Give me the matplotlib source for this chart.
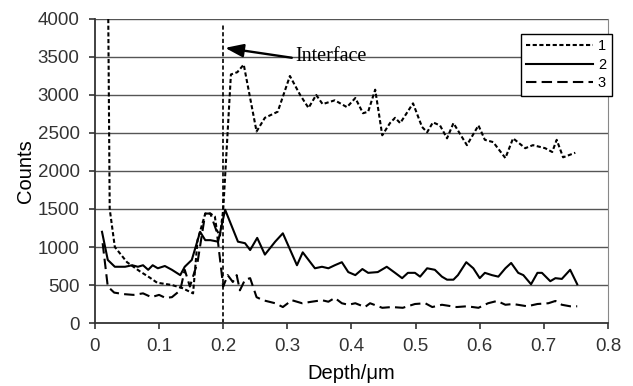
"""Depth profile of counts for three samples, with the interface marked."""

import matplotlib
matplotlib.use("Agg")
import matplotlib.pyplot as plt

# series 1 (short dash)
depth_1 = [0.019, 0.023, 0.031, 0.05, 0.07, 0.085, 0.097, 0.12, 0.136, 0.153, 0.16,
           0.172, 0.18, 0.187, 0.19, 0.195, 0.2, 0.212, 0.222, 0.232, 0.252, 0.265,
           0.285, 0.304, 0.32, 0.333, 0.345, 0.355, 0.374, 0.393, 0.406, 0.418, 0.426,
           0.437, 0.448, 0.46, 0.468, 0.476, 0.496, 0.51, 0.518, 0.527, 0.538, 0.549,
           0.559, 0.58, 0.598, 0.608, 0.621, 0.64, 0.652, 0.671, 0.683, 0.702, 0.713,
           0.72, 0.73, 0.749]
counts_1 = [6000, 1500, 1000, 800, 680, 600, 530, 500, 460, 390, 1090,
            1440, 1440, 1400, 1220, 1150, 1490, 3270, 3300, 3400, 2520, 2700,
            2780, 3250, 3000, 2830, 3000, 2880, 2930, 2840, 2960, 2760, 2780,
            3070, 2470, 2630, 2700, 2630, 2890, 2580, 2510, 2640, 2600, 2430,
            2630, 2340, 2600, 2410, 2380, 2170, 2430, 2300, 2340, 2300, 2250,
            2410, 2180, 2240]

# series 2 (solid)
depth_2 = [0.011, 0.02, 0.031, 0.047, 0.058, 0.067, 0.075, 0.083, 0.09, 0.098, 0.109,
           0.12, 0.133, 0.14, 0.151, 0.164, 0.172, 0.18, 0.192, 0.203, 0.223, 0.234,
           0.242, 0.253, 0.265, 0.281, 0.293, 0.315, 0.324, 0.343, 0.354, 0.364, 0.374,
           0.385, 0.395, 0.406, 0.417, 0.426, 0.441, 0.455, 0.468, 0.479, 0.488, 0.499,
           0.507, 0.518, 0.53, 0.541, 0.549, 0.559, 0.566, 0.579, 0.59, 0.6, 0.608,
           0.619, 0.629, 0.64, 0.649, 0.66, 0.668, 0.68, 0.69, 0.697, 0.71, 0.718,
           0.728, 0.741, 0.752]
counts_2 = [1200, 830, 740, 740, 760, 740, 760, 700, 760, 720, 750,
            700, 630, 740, 830, 1200, 1090, 1090, 1070, 1490, 1070, 1050,
            960, 1120, 900, 1070, 1180, 760, 930, 720, 740, 720, 760,
            800, 670, 630, 710, 660, 670, 740, 660, 590, 660, 660,
            610, 720, 700, 610, 570, 570, 630, 800, 720, 590, 660,
            630, 610, 720, 790, 660, 630, 510, 660, 660, 550, 590,
            580, 700, 510]

# series 3 (long dash)
depth_3 = [0.012, 0.02, 0.03, 0.045, 0.06, 0.075, 0.088, 0.1, 0.11, 0.12, 0.133,
           0.14, 0.148, 0.16, 0.172, 0.18, 0.19, 0.2, 0.207, 0.215, 0.221, 0.226,
           0.234, 0.242, 0.252, 0.262, 0.281, 0.293, 0.307, 0.323, 0.338, 0.354, 0.364,
           0.374, 0.385, 0.395, 0.406, 0.421, 0.429, 0.448, 0.463, 0.48, 0.499, 0.515,
           0.526, 0.541, 0.564, 0.58, 0.598, 0.613, 0.627, 0.64, 0.652, 0.674, 0.69,
           0.707, 0.718, 0.728, 0.741, 0.752]
counts_3 = [1050, 480, 400, 380, 370, 390, 340, 370, 330, 340, 430,
            700, 480, 800, 1440, 1440, 1200, 480, 630, 540, 630, 430,
            570, 590, 340, 300, 260, 210, 300, 260, 280, 300, 280,
            330, 260, 240, 260, 210, 260, 200, 210, 200, 250, 260,
            210, 240, 210, 220, 200, 260, 290, 240, 250, 220, 250,
            260, 290, 240, 220, 220]

series_labels = ["1", "2", "3"]
interface_depth = 0.2
arrow_tip = (0.203, 3620)
arrow_tail = (0.307, 3490)
x_ticks = [0, 0.1, 0.2, 0.3, 0.4, 0.5, 0.6, 0.7, 0.8]
y_ticks = [0, 500, 1000, 1500, 2000, 2500, 3000, 3500, 4000]

plt.rcParams["font.family"] = ["Liberation Sans", "DejaVu Sans"]

fig = plt.figure(figsize=(6.33, 3.86), dpi=100)
ax = fig.add_axes([0.150, 0.1632, 0.8105, 0.7876])

for y in y_ticks[1:]:
    ax.axhline(y, color="#555555", lw=1.0, zorder=1)

lw = 1.5
ax.plot(depth_1, counts_1, color="black", lw=lw, dashes=(2.0, 1.2), label=series_labels[0], zorder=3)
ax.plot(depth_2, counts_2, color="black", lw=lw, label=series_labels[1], zorder=3)
ax.plot(depth_3, counts_3, color="black", lw=lw, dashes=(5.0, 2.5), label=series_labels[2], zorder=3)

# interface marker
ax.plot([interface_depth, interface_depth], [0, 3950], color="black", lw=1.2,
        dashes=(2.5, 1.5), zorder=2)
ax.annotate("", xy=arrow_tip, xytext=arrow_tail,
            arrowprops=dict(arrowstyle="-|>,head_length=1.1,head_width=0.4",
                            color="black", lw=1.7, shrinkA=0, shrinkB=0), zorder=4)
ax.text(0.313, 3500, "Interface", family=["Liberation Serif", "DejaVu Serif"],
        fontsize=14.5, va="center", ha="left", zorder=4)

ax.set_xlim(0, 0.8)
ax.set_ylim(0, 4000)
ax.set_xticks(x_ticks)
ax.set_xticklabels(["0" if t == 0 else f"{t:.1f}" for t in x_ticks])
ax.set_yticks(y_ticks)
ax.tick_params(labelsize=13.5, colors="#333333", length=4, width=1.2, direction="out")
ax.tick_params(axis="x", pad=7)
ax.tick_params(axis="y", pad=7)

ax.spines["top"].set_visible(False)
ax.spines["right"].set_color("#888888")
ax.spines["left"].set_color("#333333")
ax.spines["bottom"].set_color("#333333")
ax.spines["left"].set_linewidth(1.3)
ax.spines["bottom"].set_linewidth(1.3)

ax.set_xlabel("Depth/\u03bcm", fontsize=14.5, labelpad=6)
ax.set_ylabel("Counts", fontsize=14.5, labelpad=2)

leg = ax.legend(loc="upper right", bbox_to_anchor=(0.978, 0.932),
                bbox_transform=fig.transFigure, fontsize=10.5, handlelength=4.6,
                handletextpad=0.3, labelspacing=0.3, borderpad=0.4,
                fancybox=False, framealpha=1, edgecolor="black")
leg.get_frame().set_linewidth(1.0)

fig.savefig("out.png", dpi=100)
